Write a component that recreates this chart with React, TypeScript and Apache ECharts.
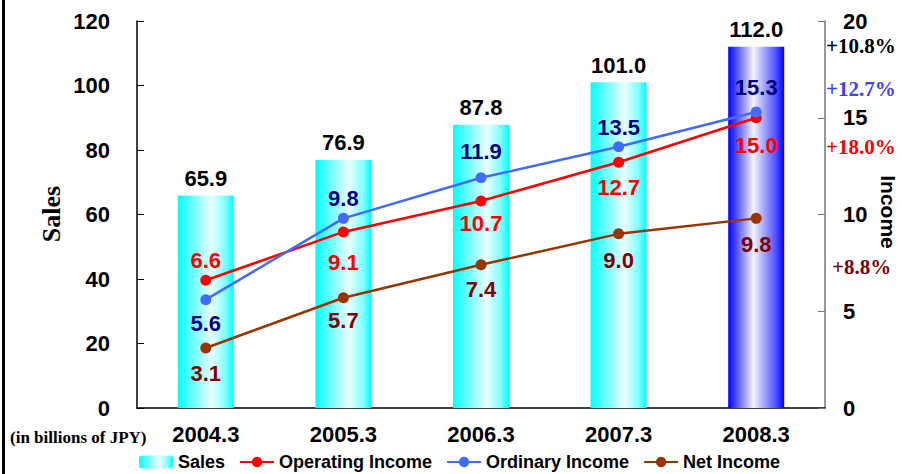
import React, { useEffect, useRef } from "react";
import * as echarts from "echarts";

const categories = ["2004.3", "2005.3", "2006.3", "2007.3", "2008.3"];
const sales = [65.9, 76.9, 87.8, 101.0, 112.0];
const operatingIncome = [6.6, 9.1, 10.7, 12.7, 15.0];
const ordinaryIncome = [5.6, 9.8, 11.9, 13.5, 15.3];
const netIncome = [3.1, 5.7, 7.4, 9.0, 9.8];
const growthLabels = ["+10.8%", "+12.7%", "+18.0%", "+8.8%"];

// label placement (styling): negative = above the point, positive = below (px from point to label centre)
const operatingLabelGap = [-20, 31, 23, 26, 28];
const ordinaryLabelGap = [24, -20, -27, -20, -25];
const netLabelGap = [26, 23, 25, 27, 27];

const SANS = "'Liberation Sans', Arial, sans-serif";
const SERIF = "'Liberation Serif', 'Times New Roman', serif";
const LABEL_FS = 22;

const cyanGrad = () =>
  new echarts.graphic.LinearGradient(0, 0, 1, 0, [
    { offset: 0, color: "#00ffff" },
    { offset: 0.15, color: "#40ffff" },
    { offset: 0.6, color: "#eaffff" },
    { offset: 0.85, color: "#80ffff" },
    { offset: 1, color: "#00ffff" },
  ]);
const blueGrad = () =>
  new echarts.graphic.LinearGradient(0, 0, 1, 0, [
    { offset: 0, color: "#0000ff" },
    { offset: 0.12, color: "#4040ff" },
    { offset: 0.45, color: "#f4f4ff" },
    { offset: 0.85, color: "#5050ff" },
    { offset: 1, color: "#0000ff" },
  ]);

function lineData(values: number[], gaps: number[], color: string) {
  return values.map((v, i) => {
    const g = gaps[i];
    const above = g < 0;
    const dist = Math.max(0, Math.abs(g) - 6 - LABEL_FS / 2);
    return {
      value: v,
      label: {
        position: above ? "top" : "bottom",
        distance: dist,
        color,
      },
    };
  });
}

export default function App() {
  const ref = useRef<HTMLDivElement>(null);
  useEffect(() => {
    if (!ref.current) return;
    const chart = echarts.init(ref.current, undefined, { renderer: "svg" });
    const lineLabel = (color: string) => ({
      show: true,
      fontFamily: SANS,
      fontWeight: "bold",
      fontSize: LABEL_FS,
      color,
      formatter: (p: any) => Number(p.value).toFixed(1),
    });
    const pct = (i: number, x: number, y: number, fill: string) => ({
      type: "text",
      x,
      y,
      style: {
        text: growthLabels[i],
        fontFamily: SERIF,
        fontWeight: "bold",
        fontSize: 21,
        fill,
        align: "left",
        verticalAlign: "middle",
      },
    });
    chart.setOption({
      animation: false,
      backgroundColor: "#ffffff",
      grid: { left: 137, right: 77, top: 21, bottom: 66 },
      legend: {
        left: 139,
        top: 453,
        padding: 0,
        itemWidth: 34,
        itemHeight: 13,
        itemGap: 14,
        textStyle: { fontFamily: SANS, fontWeight: "bold", fontSize: 18, color: "#000" },
        data: ["Sales", "Operating Income", "Ordinary Income", "Net Income"],
      },
      xAxis: {
        type: "category",
        data: categories,
        axisLine: { lineStyle: { color: "#000", width: 1.5 } },
        axisTick: { inside: true, length: 8, lineStyle: { color: "#777" } },
        axisLabel: { fontFamily: SANS, fontWeight: "bold", fontSize: 22, color: "#000", margin: 15 },
      },
      yAxis: [
        {
          type: "value",
          min: 0,
          max: 120,
          interval: 20,
          splitLine: { show: false },
          axisLine: { show: true, lineStyle: { color: "#000", width: 1.5 } },
          axisTick: { show: true, inside: true, length: 7, lineStyle: { color: "#000" } },
          axisLabel: { fontFamily: SANS, fontWeight: "bold", fontSize: 22, color: "#000", margin: 27 },
        },
        {
          type: "value",
          min: 0,
          max: 20,
          interval: 5,
          position: "right",
          splitLine: { show: false },
          axisLine: { show: true, lineStyle: { color: "#777", width: 1.5 } },
          axisTick: { show: true, inside: true, length: 7, lineStyle: { color: "#777" } },
          axisLabel: { fontFamily: SANS, fontWeight: "bold", fontSize: 22, color: "#000", margin: 18 },
        },
      ],
      series: [
        {
          name: "Sales",
          type: "bar",
          barWidth: 56,
          yAxisIndex: 0,
          itemStyle: { color: cyanGrad() },
          label: {
            show: true,
            position: "top",
            distance: 6,
            fontFamily: SANS,
            fontWeight: "bold",
            fontSize: LABEL_FS,
            color: "#000",
            formatter: (p: any) => Number(p.value).toFixed(1),
          },
          data: sales.map((v, i) =>
            i === sales.length - 1 ? { value: v, itemStyle: { color: blueGrad() } } : { value: v }
          ),
        },
        {
          name: "Operating Income",
          type: "line",
          yAxisIndex: 1,
          symbol: "circle",
          symbolSize: 11,
          lineStyle: { color: "#ff0000", width: 2.5 },
          itemStyle: { color: "#ff0000" },
          label: lineLabel("#ff0000"),
          data: lineData(operatingIncome, operatingLabelGap, "#ff0000"),
        },
        {
          name: "Ordinary Income",
          type: "line",
          yAxisIndex: 1,
          symbol: "circle",
          symbolSize: 11,
          lineStyle: { color: "#3f6bff", width: 2.5 },
          itemStyle: { color: "#3f6bff" },
          label: lineLabel("#000080"),
          data: lineData(ordinaryIncome, ordinaryLabelGap, "#000080"),
        },
        {
          name: "Net Income",
          type: "line",
          yAxisIndex: 1,
          symbol: "circle",
          symbolSize: 11,
          lineStyle: { color: "#993300", width: 2.5 },
          itemStyle: { color: "#993300" },
          label: lineLabel("#800000"),
          data: lineData(netIncome, netLabelGap, "#800000"),
        },
      ],
      graphic: [
        { type: "rect", left: 2, top: 0, shape: { width: 3, height: 474 }, style: { fill: "#000" } },
        {
          type: "text",
          x: 51,
          y: 214,
          rotation: Math.PI / 2,
          style: {
            text: "Sales",
            fontFamily: SERIF,
            fontWeight: "bold",
            fontSize: 26,
            fill: "#000",
            align: "center",
            verticalAlign: "middle",
          },
        },
        {
          type: "text",
          x: 888,
          y: 212,
          rotation: -Math.PI / 2,
          style: {
            text: "Income",
            fontFamily: SANS,
            fontWeight: "bold",
            fontSize: 21,
            fill: "#000",
            align: "center",
            verticalAlign: "middle",
          },
        },
        {
          type: "text",
          x: 10,
          y: 437,
          style: {
            text: "(in billions of JPY)",
            fontFamily: SERIF,
            fontWeight: "bold",
            fontSize: 17,
            fill: "#000",
            align: "left",
            verticalAlign: "middle",
          },
        },
        pct(0, 826, 46, "#000000"),
        pct(1, 826, 89, "#4040ff"),
        pct(2, 826, 147, "#ff0000"),
        pct(3, 832, 267, "#800000"),
      ],
    });
    return () => chart.dispose();
  }, []);
  return (
    <div
      ref={ref}
      style={{ position: "absolute", left: 0, top: 0, width: 902, height: 474, background: "#fff" }}
    />
  );
}
